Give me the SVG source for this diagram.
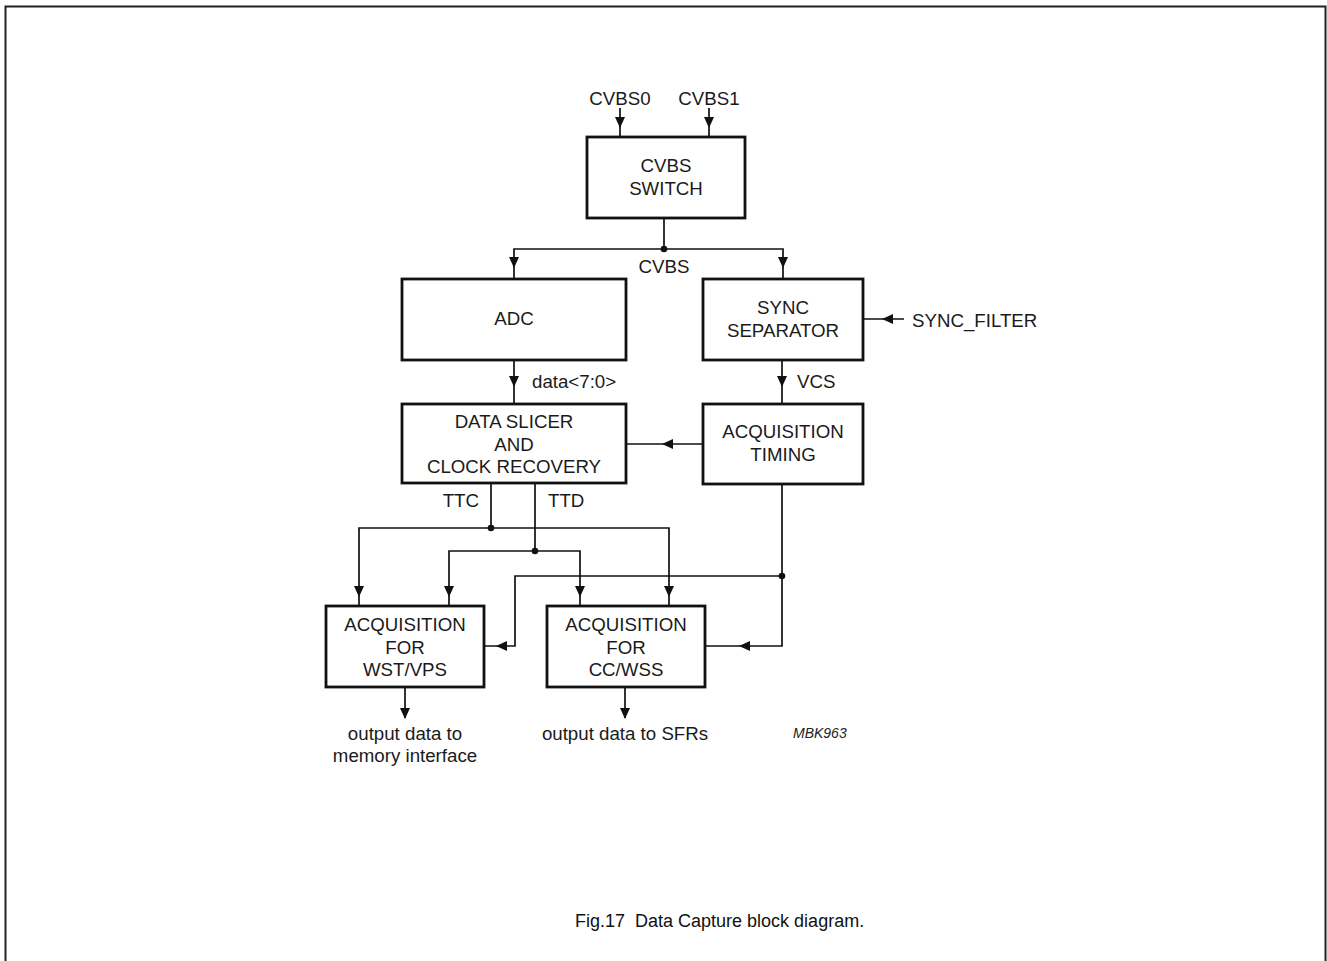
<svg xmlns="http://www.w3.org/2000/svg" xmlns:xlink="http://www.w3.org/1999/xlink" width="1327" height="961" viewBox="0 0 1327 961">
<style>
.box{fill:#fff;stroke:#111;stroke-width:2.8}
.ln{fill:none;stroke:#111;stroke-width:1.7}
.t{font-family:"Liberation Sans",Arial,sans-serif;font-size:18.7px;fill:#1a1a1a;text-anchor:middle}
.l{font-family:"Liberation Sans",Arial,sans-serif;font-size:18.7px;fill:#1a1a1a}
.ah{fill:#111}
.dot{fill:#111}
</style>
<defs>
<path id="ah" d="M0,0 L-11,-5 L-11,5 Z"/>
</defs>
<rect width="1327" height="961" fill="#fff"/>
<path d="M5.5,970 V6.5 H1325.5 V970" fill="none" stroke="#222" stroke-width="2"/>
<g id="connectors">
<path class="ln" d="M620,108 V137 M709,108 V137"/>
<path class="ln" d="M664,218 V249 M514,279 V249 H783 V279"/>
<path class="ln" d="M514,360 V404 M782,360 V404"/>
<path class="ln" d="M863,319 H904"/>
<path class="ln" d="M703,444 H626"/>
<path class="ln" d="M491,483 V528 M359,606 V528 H669 V606"/>
<path class="ln" d="M535,483 V551 M449,606 V551 H580 V606"/>
<path class="ln" d="M782,484 V646 H705 M782,576 H515 V646 H484"/>
<path class="ln" d="M405,687 V718 M625,687 V718"/>
<g class="ah">
<use xlink:href="#ah" transform="translate(620,128) rotate(90)"/>
<use xlink:href="#ah" transform="translate(709,128) rotate(90)"/>
<use xlink:href="#ah" transform="translate(514,268) rotate(90)"/>
<use xlink:href="#ah" transform="translate(783,268) rotate(90)"/>
<use xlink:href="#ah" transform="translate(514,387) rotate(90)"/>
<use xlink:href="#ah" transform="translate(782,387) rotate(90)"/>
<use xlink:href="#ah" transform="translate(882,319) rotate(180)"/>
<use xlink:href="#ah" transform="translate(662,444) rotate(180)"/>
<use xlink:href="#ah" transform="translate(359,597) rotate(90)"/>
<use xlink:href="#ah" transform="translate(669,597) rotate(90)"/>
<use xlink:href="#ah" transform="translate(449,597) rotate(90)"/>
<use xlink:href="#ah" transform="translate(580,597) rotate(90)"/>
<use xlink:href="#ah" transform="translate(739,646) rotate(180)"/>
<use xlink:href="#ah" transform="translate(496,646) rotate(180)"/>
<use xlink:href="#ah" transform="translate(405,719) rotate(90)"/>
<use xlink:href="#ah" transform="translate(625,719) rotate(90)"/>
</g>
<circle class="dot" cx="664" cy="249" r="3.3"/>
<circle class="dot" cx="491" cy="528" r="3.3"/>
<circle class="dot" cx="535" cy="551" r="3.3"/>
<circle class="dot" cx="782" cy="576" r="3.3"/>
<text class="t" x="620" y="105">CVBS0</text>
<text class="t" x="709" y="105">CVBS1</text>
<text class="t" x="664" y="273">CVBS</text>
<text class="l" x="912" y="327">SYNC_FILTER</text>
<text class="l" x="532" y="388">data&lt;7:0&gt;</text>
<text class="l" x="797" y="388">VCS</text>
<text class="l" x="479" y="507" text-anchor="end">TTC</text>
<text class="l" x="548" y="507">TTD</text>
<text class="t" x="405" y="740">output data to</text>
<text class="t" x="405" y="762">memory interface</text>
<text class="t" x="625" y="740">output data to SFRs</text>
</g>
<g id="cvbs-switch">
<rect class="box" x="587" y="137" width="158" height="81"/>
<text class="t" x="666" y="172">CVBS</text>
<text class="t" x="666" y="195">SWITCH</text>
</g>
<g id="adc">
<rect class="box" x="402" y="279" width="224" height="81"/>
<text class="t" x="514" y="325">ADC</text>
</g>
<g id="sync-separator">
<rect class="box" x="703" y="279" width="160" height="81"/>
<text class="t" x="783" y="314">SYNC</text>
<text class="t" x="783" y="337">SEPARATOR</text>
</g>
<g id="data-slicer">
<rect class="box" x="402" y="404" width="224" height="79"/>
<text class="t" x="514" y="428">DATA SLICER</text>
<text class="t" x="514" y="451">AND</text>
<text class="t" x="514" y="473">CLOCK RECOVERY</text>
</g>
<g id="acquisition-timing">
<rect class="box" x="703" y="404" width="160" height="80"/>
<text class="t" x="783" y="438">ACQUISITION</text>
<text class="t" x="783" y="461">TIMING</text>
</g>
<g id="acq-wst-vps">
<rect class="box" x="326" y="606" width="158" height="81"/>
<text class="t" x="405" y="631">ACQUISITION</text>
<text class="t" x="405" y="654">FOR</text>
<text class="t" x="405" y="676">WST/VPS</text>
</g>
<g id="acq-cc-wss">
<rect class="box" x="547" y="606" width="158" height="81"/>
<text class="t" x="626" y="631">ACQUISITION</text>
<text class="t" x="626" y="654">FOR</text>
<text class="t" x="626" y="676">CC/WSS</text>
</g>
<g id="labels">
<text x="793" y="738" font-family="Liberation Sans,Arial,sans-serif" font-size="14" font-style="italic" fill="#222">MBK963</text>
<text x="575" y="927" font-family="Liberation Sans,Arial,sans-serif" font-size="18" fill="#111" xml:space="preserve">Fig.17  Data Capture block diagram.</text>
</g>
</svg>
